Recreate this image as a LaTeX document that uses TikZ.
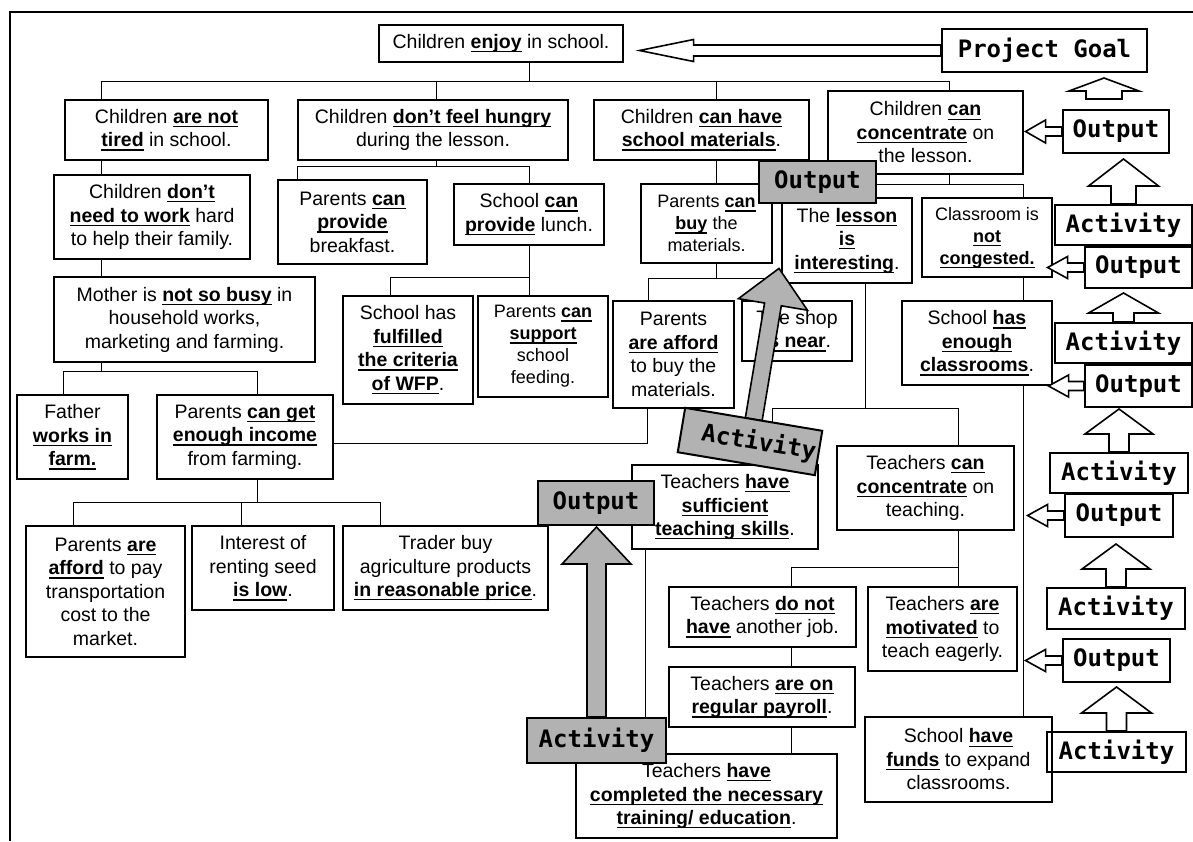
\documentclass[tikz,border=0pt]{standalone}
\usepackage{fontspec}
\setmainfont{Liberation Sans}
\newfontfamily\tagfamily{DejaVu Sans Mono}
\usetikzlibrary{calc}

\definecolor{boxgray}{RGB}{178,178,178}

% bold keyword with a flat underline
\newcommand\kw[1]{\leavevmode\setbox0=\hbox{\bfseries #1}\rlap{\rule[-3.9pt]{\wd0}{1.3pt}}\box0\relax}
\newcommand\bodytext{\fontsize{19.5}{23.5}\selectfont}
\newcommand\smalltext{\fontsize{18}{22}\selectfont}
\newcommand\tagtext{\tagfamily\bfseries\fontsize{24}{24}\selectfont}

% box by its corners: name, x1, y1, x2, y2, style, text
\newcommand\bx[7]{\node[#6, minimum width={#4-#2}, minimum height={#5-#3}] (#1) at ({(#2+#4)/2},{(#3+#5)/2}) {#7};}

% block arrow pointing up: base, tip, half shaft, half head, head length, style
\newcommand\uparr[6]{\draw[#6] (#2) -- ($(#2)+(#4,#5)$) -- ($(#2)+(#3,#5)$) -- ($(#1)+(#3,0)$) -- ($(#1)+(-#3,0)$) -- ($(#2)+(-#3,#5)$) -- ($(#2)+(-#4,#5)$) -- cycle;}
% block arrow pointing left: base, tip, half shaft, half head, head length, style
\newcommand\leftarr[6]{\draw[#6] (#2) -- ($(#2)+(#5,-#4)$) -- ($(#2)+(#5,-#3)$) -- ($(#1)+(0,-#3)$) -- ($(#1)+(0,#3)$) -- ($(#2)+(#5,#3)$) -- ($(#2)+(#5,#4)$) -- cycle;}

\tikzset{
  mainbox/.style={draw, line width=1.1pt, fill=white, inner sep=1pt, align=center, font=\bodytext},
  smallbox/.style={mainbox, font=\smalltext},
  tagbox/.style={draw, line width=2pt, inner sep=0pt, font=\tagtext},
  graytag/.style={tagbox, fill=boxgray},
  linkline/.style={line width=1pt},
  hollowarrow/.style={draw, line width=1.6pt, fill=white},
  grayarrow/.style={draw, line width=1.6pt, fill=boxgray},
}

\begin{document}
\begin{tikzpicture}[x=1pt, y=-1pt, line join=miter]
\useasboundingbox (0,0) rectangle (1193,841);

% frame
\draw[line width=1.6pt] (1193,12) -- (10,12) -- (10,841);

% ---------- objective tree ----------
\bx{enjoy}{379}{25}{623}{62}{mainbox}{Children \kw{enjoy} in school.}

\bx{B1}{65}{100}{268}{160}{mainbox}{Children \kw{are not}\\\kw{tired} in school.}
\bx{B2}{298}{100}{568}{160}{mainbox}{Children \kw{don’t feel hungry}\\during the lesson.}
\bx{B3}{594}{100}{809}{160}{mainbox}{Children \kw{can have}\\\kw{school materials}.}
\bx{B4}{828}{91}{1023}{174}{mainbox}{Children \kw{can}\\\kw{concentrate} on\\the lesson.}

\bx{B1a}{54}{175}{250}{259}{mainbox}{Children \kw{don’t}\\\kw{need to work} hard\\to help their family.}
\bx{B2a}{278}{180}{427}{264}{mainbox}{Parents \kw{can}\\\kw{provide}\\breakfast.}
\bx{B2b}{454}{184}{604}{245}{mainbox}{School \kw{can}\\\kw{provide} lunch.}
\bx{B3a}{641}{184}{772}{263}{smallbox}{Parents \kw{can}\\\kw{buy} the\\materials.}
\bx{lesson}{782}{198}{912}{283}{mainbox}{The \kw{lesson}\\\kw{is}\\\kw{interesting}.}
\bx{classroom}{922}{198}{1052}{277}{smallbox}{Classroom is\\\kw{not}\\\kw{congested.}}

\bx{B1b}{54}{277}{315}{362}{mainbox}{Mother is \kw{not so busy} in\\household works,\\marketing and farming.}
\bx{wfp}{343}{296}{473}{404}{mainbox}{School has\\\kw{fulfilled}\\\kw{the criteria}\\\kw{of WFP}.}
\bx{support}{478}{296}{608}{397}{smallbox}{Parents \kw{can}\\\kw{support}\\school\\feeding.}
\bx{affordMat}{613}{301}{734}{408}{mainbox}{Parents\\\kw{are afford}\\to buy the\\materials.}
\bx{shop}{742}{301}{852}{361}{mainbox}{The shop\\\kw{is near}.}
\bx{enough}{902}{301}{1052}{385}{mainbox}{School \kw{has}\\\kw{enough}\\\kw{classrooms}.}

\bx{father}{17}{395}{128}{479}{mainbox}{Father\\\kw{works in}\\\kw{farm.}}
\bx{income}{157}{395}{333}{479}{mainbox}{Parents \kw{can get}\\\kw{enough income}\\from farming.}
\bx{sufficient}{632}{465}{818}{549}{mainbox}{Teachers \kw{have}\\\kw{sufficient}\\\kw{teaching skills}.}
\bx{tconc}{837}{446}{1014}{530}{mainbox}{Teachers \kw{can}\\\kw{concentrate} on\\teaching.}

\bx{transport}{26}{526}{185}{657}{mainbox}{Parents \kw{are}\\\kw{afford} to pay\\transportation\\cost to the\\market.}
\bx{seed}{192}{526}{334}{610}{mainbox}{Interest of\\renting seed\\\kw{is low}.}
\bx{trader}{343}{526}{548}{610}{mainbox}{Trader buy\\agriculture products\\\kw{in reasonable price}.}

\bx{job}{669}{587}{856}{647}{mainbox}{Teachers \kw{do not}\\\kw{have} another job.}
\bx{motivated}{868}{587}{1017}{671}{mainbox}{Teachers \kw{are}\\\kw{motivated} to\\teach eagerly.}
\bx{payroll}{669}{667}{855}{727}{mainbox}{Teachers \kw{are on}\\\kw{regular payroll}.}
\bx{funds}{865}{717}{1052}{802}{mainbox}{School \kw{have}\\\kw{funds} to expand\\classrooms.}
\bx{training}{576}{754}{837}{838}{mainbox}{Teachers \kw{have}\\\kw{completed the necessary}\\\kw{training/ education}.}

% ---------- tree connectors ----------
\coordinate (s0) at (529,81);
\coordinate (b0a) at (101,81); \coordinate (b0b) at (436,81);
\coordinate (b0c) at (716,81); \coordinate (b0d) at (949,81);
\draw[linkline] (s0 |- enjoy.south) -- (s0);
\draw[linkline] (b0a |- B1.north) -- (b0a) -- (b0d) -- (b0d |- B4.north);
\draw[linkline] (b0b) -- (b0b |- B2.north);
\draw[linkline] (b0c) -- (b0c |- B3.north);

% left branch
\draw[linkline] (b0a |- B1.south) -- (b0a |- B1a.north);
\draw[linkline] (b0a |- B1a.south) -- (b0a |- B1b.north);
\coordinate (b1) at (101,371); \coordinate (b1a) at (63,371); \coordinate (b1b) at (257,371);
\draw[linkline] (b1 |- B1b.south) -- (b1);
\draw[linkline] (b1a |- father.north) -- (b1a) -- (b1b) -- (b1b |- income.north);
\coordinate (b2) at (257,502); \coordinate (b2a) at (73,502);
\coordinate (b2b) at (241,502); \coordinate (b2c) at (380,502);
\draw[linkline] (b2 |- income.south) -- (b2);
\draw[linkline] (b2a |- transport.north) -- (b2a) -- (b2c) -- (b2c |- trader.north);
\draw[linkline] (b2b) -- (b2b |- seed.north);
\coordinate (k1) at (647,443);
\draw[linkline] (k1 -| income.east) -- (k1) -- (k1 |- affordMat.south);

% hunger branch
\coordinate (b3) at (436,166); \coordinate (b3a) at (297,166); \coordinate (b3b) at (529,166);
\draw[linkline] (b3 |- B2.south) -- (b3);
\draw[linkline] (b3a |- B2a.north) -- (b3a) -- (b3b) -- (b3b |- B2b.north);
\coordinate (b4) at (529,277); \coordinate (b4a) at (390,277);
\draw[linkline] (b4 |- B2b.south) -- (b4);
\draw[linkline] (b4a |- wfp.north) -- (b4a) -- (b4) -- (b4 |- support.north);

% materials branch
\draw[linkline] (b0c |- B3.south) -- (b0c |- B3a.north);
\coordinate (b5) at (716,278); \coordinate (b5a) at (648,278); \coordinate (b5b) at (775,278);
\draw[linkline] (b5 |- B3a.south) -- (b5);
\draw[linkline] (b5a |- affordMat.north) -- (b5a) -- (b5b) -- (b5b |- shop.north);

% concentration branch
\coordinate (b6) at (949,184); \coordinate (b6a) at (847,184); \coordinate (b6b) at (1023,184);
\draw[linkline] (b6 |- B4.south) -- (b6);
\draw[linkline] (b6a |- lesson.north) -- (b6a) -- (b6b) -- (b6b |- classroom.north);
\draw[linkline] (b6b |- classroom.south) -- (b6b |- enough.north);
\draw[linkline] (b6b |- enough.south) -- (b6b |- funds.north);
\coordinate (b7) at (865,408); \coordinate (b7a) at (772,408); \coordinate (b7b) at (958,408);
\draw[linkline] (b7 |- lesson.south) -- (b7);
\draw[linkline] (b7a |- sufficient.north) -- (b7a) -- (b7b) -- (b7b |- tconc.north);
\coordinate (b8) at (958,567); \coordinate (b8a) at (791,567);
\draw[linkline] (b8 |- tconc.south) -- (b8);
\draw[linkline] (b8a |- job.north) -- (b8a) -- (b8) -- (b8 |- motivated.north);
\draw[linkline] (b8a |- job.south) -- (b8a |- payroll.north);
\draw[linkline] (b8a |- payroll.south) -- (b8a |- training.north);
\coordinate (v9) at (645,0);
\draw[linkline] (v9 |- sufficient.south) -- (v9 |- training.north);

% ---------- project ladder ----------
\bx{goal}{942}{29}{1147}{72}{tagbox}{Project Goal}
\bx{out1}{1063}{110}{1169}{153}{tagbox}{Output}
\bx{act1}{1055}{205}{1192}{245}{tagbox}{Activity}
\bx{out2}{1085}{247}{1192}{288}{tagbox}{Output}
\bx{act2}{1055}{323}{1192}{363}{tagbox}{Activity}
\bx{out3}{1085}{365}{1192}{407}{tagbox}{Output}
\bx{act3}{1050}{453}{1188}{493}{tagbox}{Activity}
\bx{out4}{1065}{494}{1173}{537}{tagbox}{Output}
\bx{act4}{1047}{588}{1185}{629}{tagbox}{Activity}
\bx{out5}{1063}{639}{1170}{682}{tagbox}{Output}
\bx{act5}{1047}{732}{1186}{772}{tagbox}{Activity}

\coordinate (ptip) at ($(enjoy.east |- goal.west)+(16,0)$);
\leftarr{goal.west}{ptip}{5.5}{11}{54}{hollowarrow}

\coordinate (g0b) at ($(out1.north)+(-12,-10)$);
\coordinate (g0t) at ($(goal.south -| g0b)+(0,5)$);
\uparr{g0b}{g0t}{18}{35}{13}{hollowarrow}

\coordinate (u1t) at ($(out1.south -| act1.north)+(0,5)$);
\uparr{act1.north}{u1t}{12.5}{35}{27}{hollowarrow}
\coordinate (u2t) at ($(out2.south -| act2.north)+(0,4)$);
\uparr{act2.north}{u2t}{10.5}{35}{20}{hollowarrow}
\coordinate (u3t) at ($(out3.south -| act3.north)+(0,1)$);
\uparr{act3.north}{u3t}{10}{34}{25}{hollowarrow}
\coordinate (u4t) at ($(out4.south -| act4.north)+(0,6)$);
\uparr{act4.north}{u4t}{10}{34}{25}{hollowarrow}
\coordinate (u5t) at ($(out5.south -| act5.north)+(0,4)$);
\uparr{act5.north}{u5t}{10}{35}{26}{hollowarrow}

\coordinate (l1t) at ($(B4.east |- out1.west)+(2,0)$);
\leftarr{out1.west}{l1t}{4.5}{11.5}{20}{hollowarrow}
\coordinate (l2t) at ($(classroom.east |- out2.west)+(-5,0)$);
\leftarr{out2.west}{l2t}{4.5}{11}{20}{hollowarrow}
\coordinate (l3t) at ($(enough.east |- out3.west)+(-4,0)$);
\leftarr{out3.west}{l3t}{4.5}{11}{20}{hollowarrow}
\coordinate (l4t) at ($(tconc.east |- out4.west)+(13,0)$);
\leftarr{out4.west}{l4t}{4.5}{11}{20}{hollowarrow}
\coordinate (l5t) at ($(motivated.east |- out5.west)+(8,0)$);
\leftarr{out5.west}{l5t}{4.5}{11}{20}{hollowarrow}

% ---------- grey overlays ----------
\bx{gout1}{759}{161}{876}{203}{graytag}{Output}
\bx{gout2}{538}{481}{654}{525}{graytag}{Output}
\bx{gact2}{527}{718}{666}{763}{graytag}{Activity}
\coordinate (gt) at ($(gout2.south -| gact2.north)+(0,1)$);
\uparr{gact2.north}{gt}{9.5}{34.5}{37}{grayarrow}

\begin{scope}[shift={(750,441.5)}, rotate=-9.5]
  \draw[grayarrow] (0,-175.5) -- (35,-139) -- (8.5,-139) -- (8.5,-22.5)
    -- (-8.5,-22.5) -- (-8.5,-139) -- (-35,-139) -- cycle;
  \node[graytag, rotate=-9.5, minimum width=139, minimum height=45] (gact1) at (0,0) {\hspace*{18pt}Activity};
\end{scope}

\end{tikzpicture}
\end{document}
